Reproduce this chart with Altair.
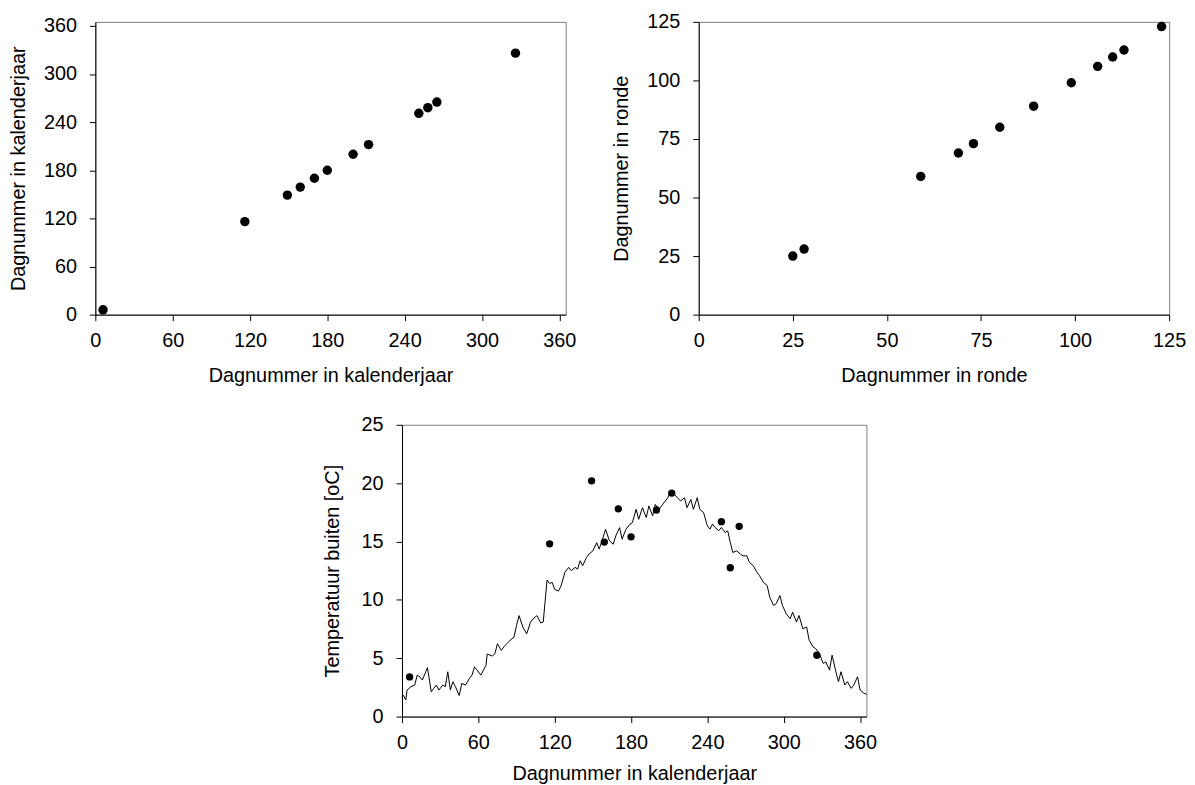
import altair as alt
import pandas as pd

# --- Data ---
cal_days = [6, 116, 149, 159, 170, 180, 200, 212, 251, 258, 265, 326]
ronde_days = [25, 28, 59, 69, 73, 80, 89, 99, 106, 110, 113, 123]
meas_temp = [3.4, 14.8, 20.2, 14.95, 17.8, 15.4, 17.7, 19.15, 16.7, 12.75, 16.3, 5.25]

line_days = [0, 1, 3, 4, 7, 10, 12, 14, 16, 20, 23, 25, 27, 29, 32, 34, 36, 38, 40, 42,
             45, 47, 50, 53, 55, 57, 59, 62, 66, 67, 71, 73, 75, 78, 81, 85, 88, 90, 92, 95,
             98, 101, 103, 106, 109, 111, 114, 116, 118, 120, 123, 125, 128, 131, 133, 136, 138, 140, 142, 145,
             147, 150, 153, 155, 158, 160, 163, 166, 168, 171, 173, 176, 179, 181, 184, 186, 189, 192, 194, 197,
             199, 202, 205, 209, 211, 214, 216, 219, 222, 224, 227, 229, 232, 234, 237, 240, 242, 244, 246, 249,
             251, 254, 256, 258, 260, 263, 266, 268, 271, 273, 276, 279, 281, 284, 287, 289, 292, 294, 297, 299,
             302, 305, 307, 310, 312, 315, 318, 320, 323, 325, 328, 331, 333, 336, 338, 341, 343, 345, 348, 350,
             353, 355, 358, 360, 363, 365]
line_temp = [1.6, 1.84, 1.42, 2.27, 2.56, 2.7, 3.55, 3.41, 3.13, 4.19, 2.13, 2.42, 2.7, 2.27, 2.7, 2.56, 3.84, 2.27, 2.98, 2.56,
             1.8, 2.84, 2.7, 3.27, 3.55, 4.26, 3.98, 3.55, 4.4, 5.36, 5.19, 5.39, 6.24, 5.67, 6.1, 6.53, 6.81, 7.8, 8.65, 7.66,
             7.09, 8.08, 8.37, 8.65, 8.02, 8.1, 11.7, 11.4, 11.5, 10.9, 10.75, 11.2, 12.35, 12.78, 12.5, 12.78, 12.64, 13.35, 12.93, 13.64,
             13.93, 14.2, 14.9, 14.35, 15.34, 16.05, 15.06, 14.77, 15.48, 16.19, 15.2, 16.05, 16.47, 16.6, 17.76, 16.9, 17.9, 17.05, 18.05, 17.2,
             18.18, 17.76, 18.2, 18.75, 19.33, 19.04, 18.8, 18.47, 18.75, 17.9, 18.6, 17.76, 18.75, 17.76, 17.48, 16.34, 16.06, 16.49, 16.2, 15.92,
             16.2, 15.77, 15.91, 14.92, 14.06, 14.2, 13.92, 13.77, 13.77, 13.21, 12.93, 12.36, 12.07, 11.51, 11.22, 10.23, 9.52, 9.66, 10.37, 9.52,
             8.8, 8.38, 8.95, 8.1, 8.66, 7.52, 7.67, 6.54, 5.97, 5.83, 5.4, 4.55, 4.69, 3.98, 5.26, 3.84, 2.99, 3.84, 2.7, 2.99,
             2.42, 2.7, 3.41, 2.28, 2.0, 1.9]

day_ticks = [0, 60, 120, 180, 240, 300, 360]
ronde_ticks = [0, 25, 50, 75, 100, 125]
temp_ticks = [0, 5, 10, 15, 20, 25]

n = min(len(line_days), len(line_temp))
pts = pd.DataFrame({"cal": cal_days, "ronde": ronde_days, "temp": meas_temp})
line_df = pd.DataFrame({"day": line_days[:n], "t": line_temp[:n]})

T_CAL = "Dagnummer in kalenderjaar"
T_RON = "Dagnummer in ronde"
T_TMP = "Temperatuur buiten [oC]"

p1 = alt.Chart(pts).mark_circle(size=90, color="black", opacity=1).encode(
    x=alt.X("cal:Q", title=T_CAL, scale=alt.Scale(domain=[0, 365], nice=False),
            axis=alt.Axis(values=day_ticks, titlePadding=15)),
    y=alt.Y("cal:Q", title=T_CAL, scale=alt.Scale(domain=[0, 365], nice=False),
            axis=alt.Axis(values=day_ticks)),
).properties(width=474, height=295)

p2 = alt.Chart(pts).mark_circle(size=90, color="black", opacity=1).encode(
    x=alt.X("ronde:Q", title=T_RON, scale=alt.Scale(domain=[0, 125], nice=False),
            axis=alt.Axis(values=ronde_ticks, titlePadding=15)),
    y=alt.Y("ronde:Q", title=T_RON, scale=alt.Scale(domain=[0, 125], nice=False),
            axis=alt.Axis(values=ronde_ticks)),
).properties(width=474, height=295)

line = alt.Chart(line_df).mark_line(color="black", strokeWidth=1).encode(
    x=alt.X("day:Q", title=T_CAL, scale=alt.Scale(domain=[0, 365], nice=False),
            axis=alt.Axis(values=day_ticks, titlePadding=11)),
    y=alt.Y("t:Q", title=T_TMP, scale=alt.Scale(domain=[0, 25], nice=False),
            axis=alt.Axis(values=temp_ticks, titlePadding=19)),
)
dots = alt.Chart(pts).mark_circle(size=55, color="black", opacity=1).encode(
    x=alt.X("cal:Q"),
    y=alt.Y("temp:Q"),
)
p3 = alt.layer(line, dots).properties(width=468, height=294)

spacer = alt.Chart(pd.DataFrame({"a": [0]})).mark_point(opacity=0).encode(
    x=alt.X("a:Q", axis=None), y=alt.Y("a:Q", axis=None)
).properties(width=228, height=10, view=alt.ViewBackground(stroke=None))

top = alt.hconcat(p1, p2, spacing=35)
bottom = alt.hconcat(spacer, p3, spacing=0)

chart = alt.vconcat(top, bottom, spacing=28).properties(padding=0).configure_view(
    stroke="#808080", strokeWidth=1
).configure_axis(
    grid=False,
    domainColor="black",
    tickColor="black",
    tickSize=6,
    labelFont="Liberation Sans",
    titleFont="Liberation Sans",
    labelFontSize=20,
    titleFontSize=20,
    labelColor="black",
    titleColor="black",
    titleFontWeight="normal",
    labelFlush=False,
    labelOverlap=False,
).configure_axisX(labelPadding=10).configure_axisY(labelPadding=13, titlePadding=15)

chart.save("out.html", embed_options={"renderer": "svg", "actions": False})
